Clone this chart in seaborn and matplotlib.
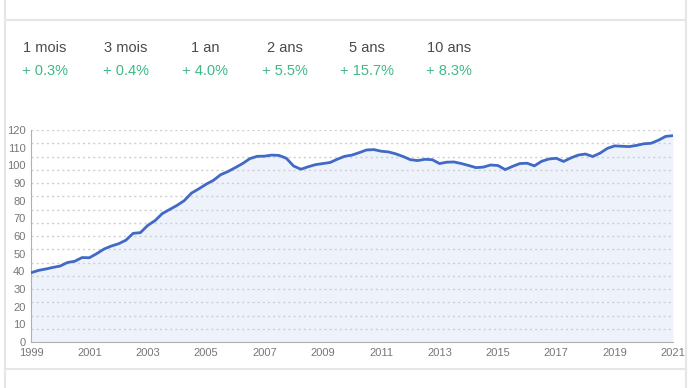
import numpy as np
import pandas as pd
import matplotlib
matplotlib.use("Agg")
import matplotlib.pyplot as plt
import seaborn as sns

# ---- data ----
periods = ["1 mois", "3 mois", "1 an", "2 ans", "5 ans", "10 ans"]
changes = ["+ 0.3%", "+ 0.4%", "+ 4.0%", "+ 5.5%", "+ 15.7%", "+ 8.3%"]

start_year = 1999
values = [
    39.2, 40.5, 41.3, 42.2,   # 1999
    43.0, 45.0, 45.7, 47.8,   # 2000
    47.7, 50.0, 52.6, 54.3,   # 2001
    55.6, 57.6, 61.5, 61.9,   # 2002
    66.0, 68.7, 72.7, 75.0,   # 2003
    77.3, 80.0, 84.3, 86.7,   # 2004
    89.3, 91.5, 94.7, 96.5,   # 2005
    98.7, 101.0, 103.8, 105.1,  # 2006
    105.2, 105.8, 105.6, 104.0,  # 2007
    99.6, 97.8, 99.2, 100.4,   # 2008
    101.0, 101.6, 103.5, 105.1,  # 2009
    105.8, 107.2, 108.7, 108.9,  # 2010
    108.0, 107.6, 106.5, 105.0,  # 2011
    103.2, 102.7, 103.4, 103.2,  # 2012
    101.0, 101.8, 101.9, 101.0,  # 2013
    99.9, 98.7, 99.0, 100.2,   # 2014
    99.9, 97.6, 99.4, 101.0,   # 2015
    101.2, 99.7, 102.3, 103.6,  # 2016
    104.0, 102.2, 104.2, 105.8,  # 2017
    106.4, 105.0, 106.9, 109.6,  # 2018
    111.0, 110.8, 110.6, 111.3,  # 2019
    112.2, 112.5, 114.2, 116.4,  # 2020
    116.8,                      # 2021
]
x_ticks = list(range(1999, 2022, 2))
y_ticks = list(range(0, 121, 10))

t = start_year + np.arange(len(values)) * 0.25
df = pd.DataFrame({"t": t, "v": values})

# ---- style ----
sns.set_style("white")
plt.rcParams["font.family"] = ["Liberation Sans", "DejaVu Sans"]

W, H = 689, 388
fig = plt.figure(figsize=(W / 100, H / 100), dpi=100)
fig.patch.set_facecolor("white")

# page frame lines
border = "#e6e6e6"
fig.add_artist(plt.Line2D([5 / W, 5 / W], [0, 1], color=border, lw=1.5))
fig.add_artist(plt.Line2D([686 / W, 686 / W], [0, 1], color=border, lw=1.5))
fig.add_artist(plt.Line2D([5 / W, 686 / W], [1 - 20 / H, 1 - 20 / H], color=border, lw=1.5))
fig.add_artist(plt.Line2D([5 / W, 686 / W], [1 - 369 / H, 1 - 369 / H], color=border, lw=1.5))

# header stats
centers = [45, 126, 205, 285, 367, 449]
for cx, p, c in zip(centers, periods, changes):
    fig.text(cx / W, 1 - 48 / H, p, ha="center", va="center", fontsize=10.5, color="#4a4a4a")
    fig.text(cx / W, 1 - 71 / H, c, ha="center", va="center", fontsize=10.5, color="#3fba85")

# chart
left, right, top, bottom = 31, 673, 130, 342
ax = fig.add_axes([left / W, 1 - bottom / H, (right - left) / W, (bottom - top) / H])
ax.set_facecolor("none")

line_color = "#4169c6"
ax.fill_between(df["t"], df["v"], 0, color="#eef2fb", zorder=1, linewidth=0)
for g in np.arange(7.5, 120.1, 7.5):
    ax.axhline(g, color="#cfcfcf", lw=1, ls=(0, (1.5, 2.2)), zorder=2)
sns.lineplot(data=df, x="t", y="v", ax=ax, color=line_color, linewidth=2.0, zorder=3)

ax.set_xlim(1999, 2021)
ax.set_ylim(0, 120)
ax.set_xticks(x_ticks)
ax.set_xticklabels([str(x) for x in x_ticks])
ax.set_yticks(y_ticks)
ax.set_yticklabels([str(y) for y in y_ticks])
ax.set_xlabel("")
ax.set_ylabel("")

for s in ["top", "right"]:
    ax.spines[s].set_visible(False)
for s in ["left", "bottom"]:
    ax.spines[s].set_color("#b0b0b0")
    ax.spines[s].set_linewidth(0.8)

ax.tick_params(axis="both", which="major", labelsize=8, colors="#777777",
               length=2.5, width=0.8, pad=1.5, direction="out")
ax.tick_params(axis="x", pad=1.5)

fig.savefig("out.png", dpi=100, facecolor="white")
